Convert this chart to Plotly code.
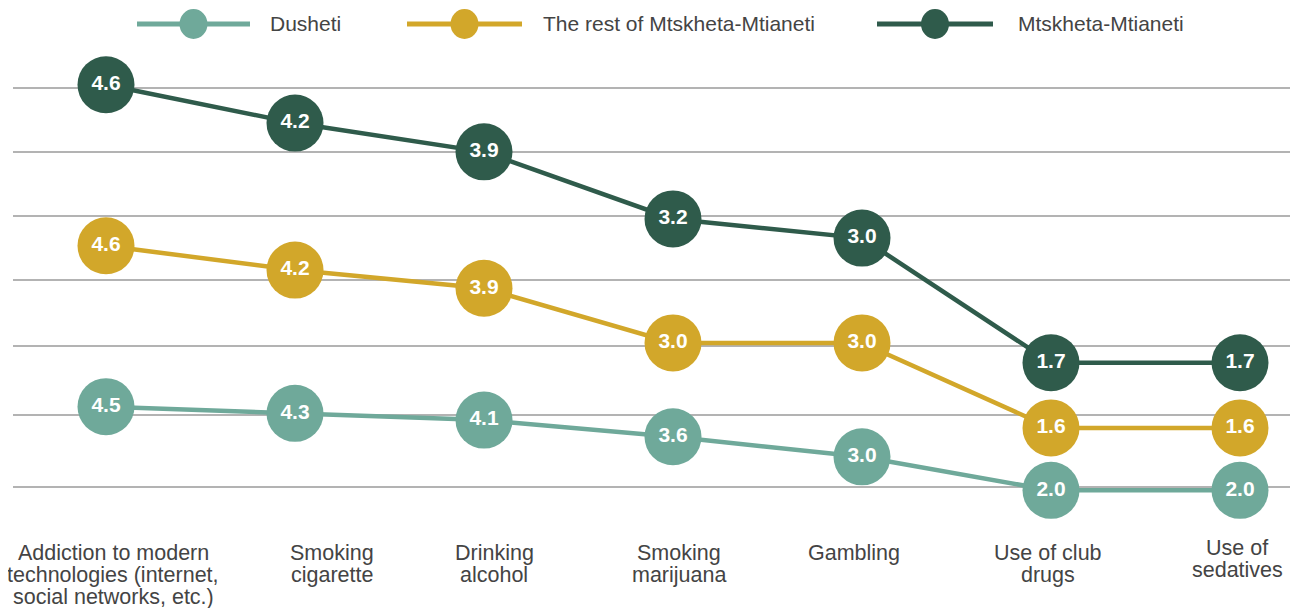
import plotly.graph_objects as go

categories = [
    "Addiction to modern<br>technologies (internet,<br>social networks, etc.)",
    "Smoking<br>cigarette",
    "Drinking<br>alcohol",
    "Smoking<br>marijuana",
    "Gambling",
    "Use of club<br>drugs",
    "Use of<br>sedatives",
]
dusheti = [4.5, 4.3, 4.1, 3.6, 3.0, 2.0, 2.0]
rest_mm = [4.6, 4.2, 3.9, 3.0, 3.0, 1.6, 1.6]
mm = [4.6, 4.2, 3.9, 3.2, 3.0, 1.7, 1.7]

series_names = ["Dusheti", "The rest of Mtskheta-Mtianeti", "Mtskheta-Mtianeti"]
colors = ["#6FA99A", "#D2A72A", "#2F5B4B"]

# page body adds an 8px margin; work in reference-pixel coordinates and shift
OFF = 8
W_REF, H_REF = 1298, 608
L_REF, T_REF, B_REF = 13, 60, 535           # plot area in reference pixels
W, H = W_REF - OFF, H_REF - OFF

x_idx = list(range(len(categories)))
X0_PX, DX_PX = 106, 189                       # category spacing in reference pixels

# each series sits on its own value scale (stacked bands as in the original)
# scale params: pixel_row = a - b * value
scales = [(557.2, 33.45), (525.0, 60.7), (525.7, 95.86)]

def axis_range(a, b):
    return [(a - B_REF) / b, (a - T_REF) / b]

fig = go.Figure()
for vals, name, col, ax in zip([dusheti, rest_mm, mm], series_names, colors, ["y", "y2", "y3"]):
    fig.add_trace(go.Scatter(
        x=x_idx, y=vals, name=name, yaxis=ax,
        mode="lines+markers+text",
        line=dict(color=col, width=4.5),
        marker=dict(size=57, color=col, line=dict(width=0)),
        texttemplate="%{y:.1f}", textposition="middle center",
        textfont=dict(family="Liberation Sans", size=21, color="white", weight="bold"),
        showlegend=False, cliponaxis=False, hoverinfo="skip",
    ))

grid_rows = [88, 152, 216, 280, 346, 415, 487]   # reference pixel rows of gridlines
a0, b0 = scales[0]
grid_vals = [(a0 - r) / b0 for r in grid_rows]

fig.update_layout(
    width=W, height=H,
    margin=dict(l=L_REF - OFF, r=0, t=T_REF - OFF, b=H_REF - B_REF, pad=0),
    plot_bgcolor="white", paper_bgcolor="white",
    font=dict(family="Liberation Sans", color="#444444"),
    xaxis=dict(range=[(L_REF - X0_PX) / DX_PX, (W_REF - X0_PX) / DX_PX],
               showticklabels=False, showgrid=False, zeroline=False, showline=False, ticks=""),
    yaxis=dict(range=axis_range(*scales[0]), tickvals=grid_vals, showticklabels=False,
               showgrid=True, gridcolor="#B3B3B3", gridwidth=1.5, zeroline=False, ticks=""),
    yaxis2=dict(range=axis_range(*scales[1]), overlaying="y", visible=False),
    yaxis3=dict(range=axis_range(*scales[2]), overlaying="y", visible=False),
)

def px_x(p):
    return (p - L_REF) / (W_REF - L_REF)

def px_y(p):
    return (B_REF - p) / (B_REF - T_REF)

# category labels (positions as laid out in the original), tight line spacing
label_cx = [113, 332, 494, 679, 854, 1048, 1237]
label_top = [553, 553, 553, 553, 553, 553, 548]
LINE_H = 22
for cat, cx, top in zip(categories, label_cx, label_top):
    for j, line in enumerate(cat.split("<br>")):
        fig.add_annotation(text=line, xref="paper", yref="paper", x=px_x(cx),
                           y=px_y(top + j * LINE_H), xanchor="center", yanchor="middle",
                           showarrow=False, font=dict(size=21.5, color="#444444"))

# custom legend (line with a circle, then label)
legend_items = [(137, 250, 268), (407, 522, 541), (877, 993, 1016)]
ly = 24
for (x0, x1, tx), name, col in zip(legend_items, series_names, colors):
    fig.add_shape(type="line", xref="paper", yref="paper",
                  x0=px_x(x0), x1=px_x(x1), y0=px_y(ly), y1=px_y(ly),
                  line=dict(color=col, width=5))
    cx = (x0 + x1) / 2
    fig.add_shape(type="circle", xref="paper", yref="paper",
                  xsizemode="pixel", ysizemode="pixel",
                  xanchor=px_x(cx), yanchor=px_y(ly),
                  x0=-14, x1=14, y0=-15, y1=15,
                  fillcolor=col, line=dict(width=0))
    fig.add_annotation(text=name, xref="paper", yref="paper",
                       x=px_x(tx), y=px_y(ly), xanchor="left", yanchor="middle",
                       showarrow=False, font=dict(size=21, color="#444444"))

fig.write_html("out.html")
